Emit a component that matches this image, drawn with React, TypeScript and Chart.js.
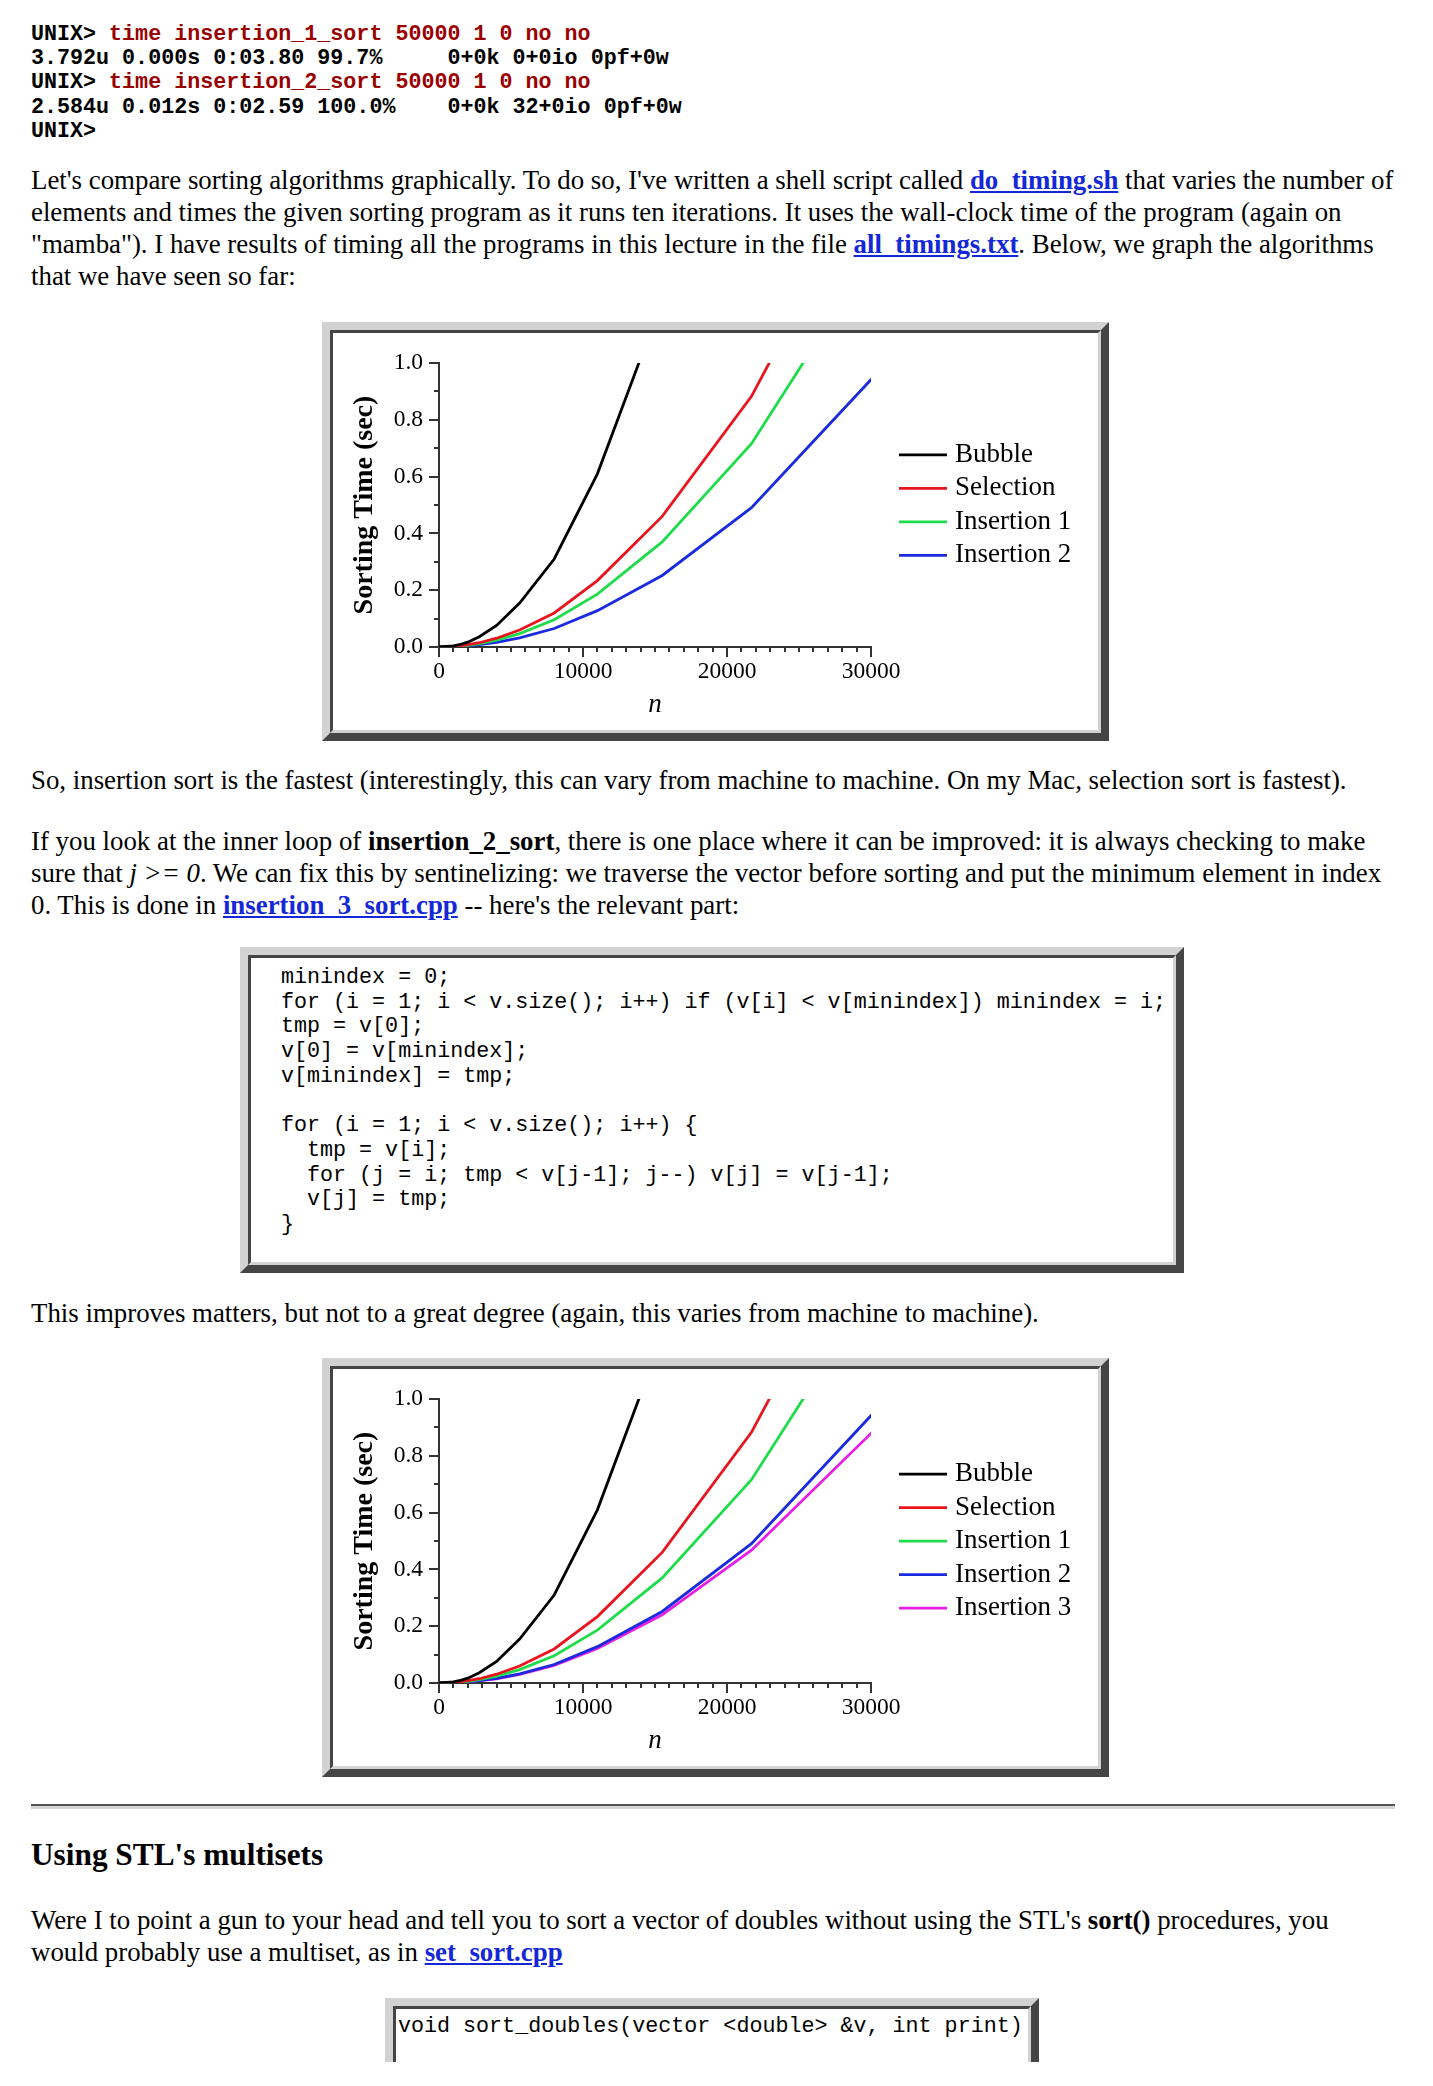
import React, { useEffect, useRef } from "react";
import { Chart, registerables } from "chart.js";

Chart.register(...registerables);

// ---------------- data ----------------
const sizeN = [0, 1000, 1400, 2000, 2800, 4000, 5600, 8000, 11000, 15500, 21700, 30700];
const bubbleSec = [0, 0.004, 0.008, 0.017, 0.036, 0.076, 0.155, 0.31, 0.61, 1.22, 2.4, 4.8];
const selectionSec = [0, 0.002, 0.004, 0.008, 0.015, 0.031, 0.06, 0.12, 0.234, 0.46, 0.883, 1.74];
const insertion1Sec = [0, 0.0015, 0.003, 0.006, 0.012, 0.024, 0.047, 0.096, 0.186, 0.37, 0.716, 1.43];
const insertion2Sec = [0, 0.001, 0.002, 0.004, 0.008, 0.016, 0.032, 0.065, 0.128, 0.252, 0.491, 0.98];
const insertion3Sec = [0, 0.001, 0.002, 0.004, 0.008, 0.015, 0.03, 0.062, 0.122, 0.24, 0.468, 0.914];

const seriesLabels = ["Bubble", "Selection", "Insertion 1", "Insertion 2", "Insertion 3"];
const seriesColors = ["#000000", "#e8141e", "#1edc4a", "#1a2ade", "#e61ee6"];

const xTickLabels = ["0", "10000", "20000", "30000"];
const yTickLabels = ["0.0", "0.2", "0.4", "0.6", "0.8", "1.0"];
const xAxisTitle = "n";
const yAxisTitle = "Sorting Time (sec)";

// ---------------- styling constants ----------------
const SERIF = "'Liberation Serif', 'Times New Roman', serif";
const MONO = "'Liberation Mono', 'Courier New', monospace";
const AXIS = "#333333";
const LIGHT = "#d2d2d2";
const DARK = "#454545";

const axisTicksPlugin = {
  id: "axisTicks",
  afterDraw(chart: any) {
    const { ctx, chartArea, scales } = chart;
    const x = scales.x;
    const y = scales.y;
    ctx.save();
    ctx.strokeStyle = AXIS;
    ctx.lineWidth = 2;
    ctx.beginPath();
    for (let i = 0; i <= 10; i++) {
      const py = Math.round(y.getPixelForValue(i / 10));
      const len = i % 2 === 0 ? 10 : 5;
      ctx.moveTo(chartArea.left - len, py);
      ctx.lineTo(chartArea.left, py);
    }
    for (let i = 0; i <= 30; i++) {
      const px = Math.round(x.getPixelForValue(i * 1000));
      const len = i % 10 === 0 ? 10 : 5;
      ctx.moveTo(px, chartArea.bottom);
      ctx.lineTo(px, chartArea.bottom + len);
    }
    ctx.stroke();
    ctx.restore();
  },
};

const sideLegendPlugin = {
  id: "sideLegend",
  afterDraw(chart: any) {
    const { ctx, chartArea } = chart;
    const ds = chart.data.datasets;
    const rowH = 33.5;
    const cy = (chartArea.top + chartArea.bottom) / 2;
    const y0 = cy - ((ds.length - 1) * rowH) / 2;
    const x0 = chartArea.right + 28;
    ctx.save();
    ctx.font = `27px ${SERIF}`;
    ctx.textBaseline = "middle";
    ctx.textAlign = "left";
    ds.forEach((d: any, i: number) => {
      const yy = y0 + i * rowH;
      ctx.strokeStyle = d.borderColor;
      ctx.lineWidth = 2.8;
      ctx.beginPath();
      ctx.moveTo(x0, yy);
      ctx.lineTo(x0 + 48, yy);
      ctx.stroke();
      ctx.fillStyle = "#000";
      ctx.fillText(d.label, x0 + 56, yy);
    });
    ctx.restore();
  },
};

function SortChart({ series, top }: { series: number[][]; top: number }) {
  const ref = useRef<HTMLCanvasElement>(null);
  useEffect(() => {
    const chart = new Chart(ref.current as HTMLCanvasElement, {
      type: "line",
      data: {
        datasets: series.map((vals, i) => ({
          label: seriesLabels[i],
          data: sizeN.map((n, k) => ({ x: n, y: vals[k] })),
          borderColor: seriesColors[i],
          backgroundColor: seriesColors[i],
          borderWidth: 2.8,
          pointRadius: 0,
          tension: 0,
          fill: false,
        })),
      },
      options: {
        animation: false,
        responsive: false,
        devicePixelRatio: 1,
        events: [],
        layout: { padding: { left: 0, top: 25, right: 227, bottom: 0 }, autoPadding: false },
        plugins: { legend: { display: false }, tooltip: { enabled: false } },
        scales: {
          x: {
            type: "linear",
            min: 0,
            max: 30000,
            afterFit: (s: any) => {
              s.height = 83;
            },
            afterBuildTicks: (s: any) => {
              s.ticks = xTickLabels.map((t) => ({ value: Number(t) }));
            },
            ticks: {
              autoSkip: false,
              maxRotation: 0,
              padding: 11,
              color: "#000",
              font: { family: SERIF, size: 23.5 },
              callback: (_v: any, i: number) => xTickLabels[i],
            },
            grid: { display: false, drawTicks: false, tickLength: 0 },
            border: { display: true, color: AXIS, width: 2 },
            title: {
              display: true,
              text: xAxisTitle,
              color: "#000",
              font: { family: SERIF, size: 27, style: "italic" },
              padding: { top: 0, bottom: 9 },
            },
          },
          y: {
            type: "linear",
            min: 0,
            max: 1,
            afterFit: (s: any) => {
              s.width = 106;
            },
            afterBuildTicks: (s: any) => {
              s.ticks = yTickLabels.map((t) => ({ value: Number(t) }));
            },
            ticks: {
              autoSkip: false,
              padding: 16,
              color: "#000",
              font: { family: SERIF, size: 23.5 },
              callback: (_v: any, i: number) => yTickLabels[i],
            },
            grid: { display: false, drawTicks: false, tickLength: 0 },
            border: { display: true, color: AXIS, width: 2 },
            title: {
              display: true,
              text: yAxisTitle,
              color: "#000",
              font: { family: SERIF, size: 28, weight: "bold" },
              padding: { top: 15, bottom: 0 },
            },
          },
        },
      },
      plugins: [axisTicksPlugin, sideLegendPlugin],
    } as any);
    return () => chart.destroy();
  }, []);
  return (
    <div style={frameOuter(322, top, 787, 419)}>
      <div style={frameInner}>
        <canvas ref={ref} width={765} height={397} style={{ display: "block" }} />
      </div>
    </div>
  );
}

function frameOuter(left: number, top: number, width: number, height: number): React.CSSProperties {
  return {
    position: "absolute",
    left,
    top,
    width,
    height,
    boxSizing: "border-box",
    borderStyle: "solid",
    borderWidth: 8,
    borderColor: `${LIGHT} ${DARK} ${DARK} ${LIGHT}`,
    background: "#fff",
  };
}

const frameInner: React.CSSProperties = {
  width: "100%",
  height: "100%",
  boxSizing: "border-box",
  borderStyle: "solid",
  borderWidth: 3,
  borderColor: `${DARK} ${LIGHT} ${LIGHT} ${DARK}`,
  background: "#fff",
  position: "relative",
};

const textBlock = (top: number): React.CSSProperties => ({
  position: "absolute",
  left: 31,
  top,
  fontFamily: SERIF,
  fontSize: 26.85,
  lineHeight: "32.2px",
  whiteSpace: "nowrap",
  color: "#000",
});

const linkStyle: React.CSSProperties = { color: "#1428d8", fontWeight: "bold", textDecoration: "underline" };
const cmd: React.CSSProperties = { color: "#9b0000" };

export default function App() {
  return (
    <div style={{ position: "relative", width: 1433, height: 2086, overflow: "hidden", background: "#fff" }}>
      <style>{`body{margin:0;background:#fff}`}</style>

      <pre
        style={{
          position: "absolute",
          left: 31,
          top: 23,
          margin: 0,
          fontFamily: MONO,
          fontSize: 21.7,
          lineHeight: "24.2px",
          fontWeight: "bold",
        }}
      >
        {"UNIX> "}
        <span style={cmd}>time insertion_1_sort 50000 1 0 no no</span>
        {"\n3.792u 0.000s 0:03.80 99.7%     0+0k 0+0io 0pf+0w\nUNIX> "}
        <span style={cmd}>time insertion_2_sort 50000 1 0 no no</span>
        {"\n2.584u 0.012s 0:02.59 100.0%    0+0k 32+0io 0pf+0w\nUNIX>"}
      </pre>

      <div style={textBlock(163.5)}>
        Let's compare sorting algorithms graphically. To do so, I've written a shell script called{" "}
        <span style={linkStyle}>do_timing.sh</span> that varies the number of
        <br />
        elements and times the given sorting program as it runs ten iterations. It uses the wall-clock time of the program (again on
        <br />
        "mamba"). I have results of timing all the programs in this lecture in the file{" "}
        <span style={linkStyle}>all_timings.txt</span>. Below, we graph the algorithms
        <br />
        that we have seen so far:
      </div>

      <SortChart series={[bubbleSec, selectionSec, insertion1Sec, insertion2Sec]} top={322} />

      <div style={textBlock(763.5)}>
        So, insertion sort is the fastest (interestingly, this can vary from machine to machine. On my Mac, selection sort is fastest).
      </div>

      <div style={textBlock(824.5)}>
        If you look at the inner loop of <b>insertion_2_sort</b>, there is one place where it can be improved: it is always checking to make
        <br />
        sure that <i>j &gt;= 0</i>. We can fix this by sentinelizing: we traverse the vector before sorting and put the minimum element in index
        <br />
        0. This is done in <span style={linkStyle}>insertion_3_sort.cpp</span> -- here's the relevant part:
      </div>

      <div style={frameOuter(240, 947, 944, 326)}>
        <div style={frameInner}>
          <pre
            style={{
              position: "absolute",
              left: 30,
              top: 8,
              margin: 0,
              fontFamily: MONO,
              fontSize: 21.7,
              lineHeight: "24.7px",
            }}
          >
            {`minindex = 0;
for (i = 1; i < v.size(); i++) if (v[i] < v[minindex]) minindex = i;
tmp = v[0];
v[0] = v[minindex];
v[minindex] = tmp;

for (i = 1; i < v.size(); i++) {
  tmp = v[i];
  for (j = i; tmp < v[j-1]; j--) v[j] = v[j-1];
  v[j] = tmp;
}`}
          </pre>
        </div>
      </div>

      <div style={textBlock(1297)}>
        This improves matters, but not to a great degree (again, this varies from machine to machine).
      </div>

      <SortChart series={[bubbleSec, selectionSec, insertion1Sec, insertion2Sec, insertion3Sec]} top={1358} />

      <div
        style={{
          position: "absolute",
          left: 31,
          top: 1803.5,
          width: 1364,
          height: 0,
          borderTop: "2px solid #555",
          borderBottom: "3px solid #d6d6d6",
        }}
      />

      <div
        style={{
          position: "absolute",
          left: 31,
          top: 1837,
          fontFamily: SERIF,
          fontSize: 31.3,
          lineHeight: "36px",
          fontWeight: "bold",
          whiteSpace: "nowrap",
        }}
      >
        Using STL's multisets
      </div>

      <div style={textBlock(1904)}>
        Were I to point a gun to your head and tell you to sort a vector of doubles without using the STL's <b>sort()</b> procedures, you
        <br />
        would probably use a multiset, as in <span style={linkStyle}>set_sort.cpp</span>
      </div>

      <div style={{ position: "absolute", left: 385, top: 1998, width: 654, height: 64, overflow: "hidden" }}>
        <div style={{ ...frameOuter(0, 0, 654, 120) }}>
          <div style={frameInner}>
            <pre
              style={{
                position: "absolute",
                left: 2,
                top: 6,
                margin: 0,
                fontFamily: MONO,
                fontSize: 21.7,
                lineHeight: "24.6px",
              }}
            >
              {"void sort_doubles(vector <double> &v, int print)"}
            </pre>
          </div>
        </div>
      </div>
    </div>
  );
}
